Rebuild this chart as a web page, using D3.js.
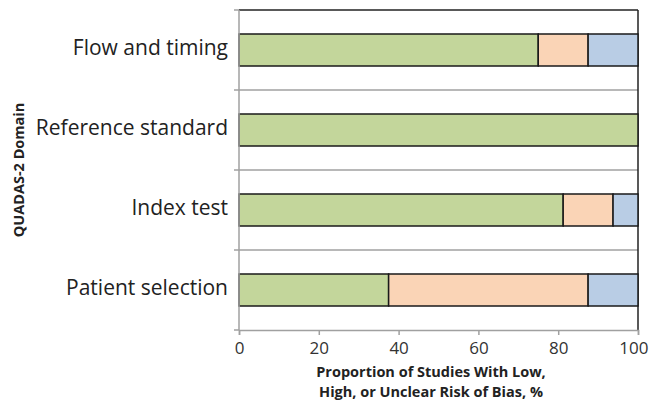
<!DOCTYPE html>
<html>
<head>
<meta charset="utf-8">
<script src="https://cdn.jsdelivr.net/npm/d3@7"></script>
<style>
  body { margin: 0; background: #fff; }
  svg { display: block; font-family: "Open Sans", sans-serif; }
</style>
</head>
<body>
<div id="chart"></div>
<script>
// QUADAS-2 risk of bias, top to bottom
const domains = ["Flow and timing", "Reference standard", "Index test", "Patient selection"];
const lowRisk = [75, 100, 81.25, 37.5];
const highRisk = [12.5, 0, 12.5, 50];
const unclearRisk = [12.5, 0, 6.25, 12.5];
const xTicks = [0, 20, 40, 60, 80, 100];

const width = 652, height = 401;
const margin = {top: 10, right: 14, bottom: 71, left: 239};

const svg = d3.select("#chart").append("svg")
    .attr("width", width)
    .attr("height", height);

const x = d3.scaleLinear().domain([0, 100]).range([margin.left, width - margin.right]);
const y = d3.scaleBand().domain(domains).range([margin.top, height - margin.bottom]);

const barH = 32;
const series = [
    {key: "low", vals: lowRisk, color: "#c3d69b"},
    {key: "high", vals: highRisk, color: "#fad4b6"},
    {key: "unclear", vals: unclearRisk, color: "#b9cde5"}
];

// stack the three series
const rows = domains.map((d, i) => {
    let acc = 0;
    return series.map(s => {
        const seg = {domain: d, x0: acc, x1: acc + s.vals[i], color: s.color};
        acc += s.vals[i];
        return seg;
    }).filter(seg => seg.x1 > seg.x0);
});

// separators between categories
svg.append("g").selectAll("line")
    .data(domains.slice(1))
    .join("line")
    .attr("x1", x(0)).attr("x2", x(100))
    .attr("y1", d => y(d)).attr("y2", d => y(d))
    .attr("stroke", "#a0a0a0").attr("stroke-width", 1.5);

// top and right frame
svg.append("line")
    .attr("x1", x(0)).attr("x2", x(100))
    .attr("y1", margin.top).attr("y2", margin.top)
    .attr("stroke", "#222").attr("stroke-width", 1.5);
svg.append("line")
    .attr("x1", x(100)).attr("x2", x(100))
    .attr("y1", margin.top).attr("y2", height - margin.bottom)
    .attr("stroke", "#222").attr("stroke-width", 1.5);

// bars
svg.append("g").selectAll("rect")
    .data(rows.flat())
    .join("rect")
    .attr("x", d => x(d.x0))
    .attr("width", d => x(d.x1) - x(d.x0))
    .attr("y", d => y(d.domain) + y.bandwidth() / 2 - barH / 2)
    .attr("height", barH)
    .attr("fill", d => d.color)
    .attr("stroke", "#1a1a1a")
    .attr("stroke-width", 1.5);

// x axis
const xAxis = svg.append("g")
    .attr("transform", `translate(0,${height - margin.bottom})`)
    .call(d3.axisBottom(x).tickValues(xTicks).tickSize(5).tickPadding(7).tickFormat(d3.format("d")));
xAxis.select(".domain").attr("stroke", "#a0a0a0").attr("stroke-width", 1.5);
xAxis.selectAll(".tick line").attr("stroke", "#a0a0a0").attr("stroke-width", 1.5);
xAxis.selectAll(".tick text")
    .attr("font-size", 17).attr("fill", "#333")
    .attr("font-family", "'Open Sans', sans-serif");
// keep the last label inside the window
xAxis.selectAll(".tick text")
    .filter(d => d === 100)
    .attr("text-anchor", "end")
    .attr("x", 10);

// y axis (band edges as ticks)
const yAxis = svg.append("g")
    .attr("transform", `translate(${margin.left},0)`);
yAxis.append("line")
    .attr("y1", margin.top).attr("y2", height - margin.bottom)
    .attr("stroke", "#a0a0a0").attr("stroke-width", 1.5);
yAxis.selectAll(".edge")
    .data(domains.map(d => y(d)).concat([height - margin.bottom]))
    .join("line")
    .attr("class", "edge")
    .attr("x1", -5).attr("x2", 0)
    .attr("y1", d => d).attr("y2", d => d)
    .attr("stroke", "#a0a0a0").attr("stroke-width", 1.5);
yAxis.selectAll("text")
    .data(domains)
    .join("text")
    .attr("x", -11)
    .attr("y", d => y(d) + y.bandwidth() / 2 - 2)
    .attr("dy", "0.35em")
    .attr("text-anchor", "end")
    .attr("font-size", 21)
    .attr("fill", "#222")
    .text(d => d);

// axis titles
svg.append("text")
    .attr("transform", `translate(24,${(margin.top + height - margin.bottom) / 2}) rotate(-90)`)
    .attr("text-anchor", "middle")
    .attr("font-size", 14.5)
    .attr("font-weight", "bold")
    .attr("fill", "#222")
    .text("QUADAS-2 Domain");

const xTitle = svg.append("text")
    .attr("text-anchor", "middle")
    .attr("font-size", 14.5)
    .attr("font-weight", "bold")
    .attr("fill", "#222");
xTitle.append("tspan").attr("x", 431).attr("y", 377).text("Proportion of Studies With Low,");
xTitle.append("tspan").attr("x", 431).attr("y", 397).text("High, or Unclear Risk of Bias, %");
</script>
</body>
</html>
